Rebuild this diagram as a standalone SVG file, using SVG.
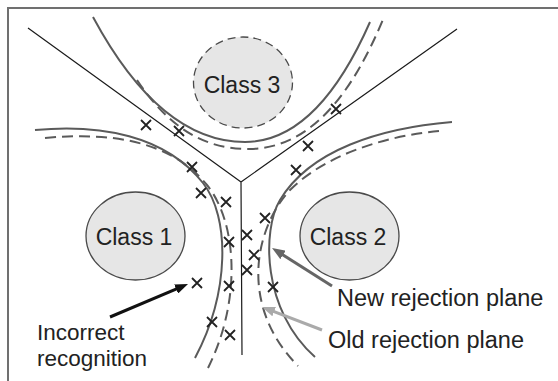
<svg xmlns="http://www.w3.org/2000/svg" width="558" height="381" viewBox="0 0 558 381">
  <style>
    .frame { stroke: #707070; stroke-width: 2; fill: none; }
    .axis { stroke: #1a1a1a; stroke-width: 1.2; fill: none; }
    .cls { fill: #e6e6e6; stroke: #4a4a4a; stroke-width: 1.3; }
    .cls-dash { stroke-dasharray: 8 5; }
    .new { stroke: #5a5a5a; stroke-width: 2; fill: none; }
    .old { stroke: #5a5a5a; stroke-width: 2; fill: none; stroke-dasharray: 11 6; }
    .mark { stroke: #222; stroke-width: 1.8; fill: none; }
    .lbl { font-family: "Liberation Sans", Arial, sans-serif; font-size: 23.5px; fill: #222; }
    .lbl-sm { font-size: 22.5px; }
    .cname { font-family: "Liberation Sans", Arial, sans-serif; font-size: 23px; fill: #222; text-anchor: middle; }
  </style>
  <defs>
    <path id="x" d="M-5,-5 L5,5 M-5,5 L5,-5"/>
    <marker id="ah-black" viewBox="0 0 13 10" refX="7" refY="5" markerWidth="13" markerHeight="10" markerUnits="userSpaceOnUse" orient="auto">
      <path d="M0,0 L13,5 L0,10 z" fill="#111"/>
    </marker>
    <marker id="ah-dark" viewBox="0 0 13 10" refX="7" refY="5" markerWidth="13" markerHeight="10" markerUnits="userSpaceOnUse" orient="auto">
      <path d="M0,0 L13,5 L0,10 z" fill="#666"/>
    </marker>
    <marker id="ah-light" viewBox="0 0 13 10" refX="7" refY="5" markerWidth="13" markerHeight="10" markerUnits="userSpaceOnUse" orient="auto">
      <path d="M0,0 L13,5 L0,10 z" fill="#aaa"/>
    </marker>
  </defs>

  <rect width="558" height="381" fill="#fff"/>
  <!-- open frame: top and left edges -->
  <path class="frame" d="M8,381 L8,8 L558,8"/>

  <!-- class regions -->
  <g id="class3">
    <ellipse class="cls cls-dash" cx="243" cy="82.5" rx="49.5" ry="45.5"/>
    <text class="cname" x="242" y="93">Class 3</text>
  </g>
  <g id="class1">
    <ellipse class="cls" cx="135.5" cy="236" rx="49.5" ry="44"/>
    <text class="cname" x="134" y="245">Class 1</text>
  </g>
  <g id="class2">
    <ellipse class="cls" cx="349.5" cy="236" rx="49.5" ry="44"/>
    <text class="cname" x="348" y="245">Class 2</text>
  </g>

  <!-- partition lines between the three classes -->
  <g id="partition">
    <path class="axis" d="M28,28 L241,182 L457,29 M241,182 L242,355"/>
  </g>

  <!-- rejection boundaries: solid = new, dashed = old -->
  <g id="boundaries">
    <path class="new" d="M93,17 C135,95 185,142 245,142 C300,142 340,90 370,22"/>
    <path class="old" d="M137,80 C165,122 200,150 250,149 C310,148 352,95 384,17"/>
    <path class="new" d="M35,130 C100,124 165,135 203,183 C230,217 230,292 195,358"/>
    <path class="old" d="M45,138 C110,132 170,140 207,185 C237,222 242,300 208,368"/>
    <path class="new" d="M452,122 C380,128 310,150 280,200 C262,230 262,310 315,357"/>
    <path class="old" d="M439,131 C385,136 325,155 290,190 C255,228 238,305 298,366"/>
  </g>

  <!-- samples -->
  <g id="samples" class="mark">
    <use href="#x" x="146" y="125"/>
    <use href="#x" x="179" y="131"/>
    <use href="#x" x="192" y="167"/>
    <use href="#x" x="201" y="193"/>
    <use href="#x" x="226" y="202"/>
    <use href="#x" x="229" y="242"/>
    <use href="#x" x="247" y="235"/>
    <use href="#x" x="254" y="255"/>
    <use href="#x" x="265" y="218"/>
    <use href="#x" x="296" y="170"/>
    <use href="#x" x="308" y="146"/>
    <use href="#x" x="336" y="109"/>
    <use href="#x" x="197" y="283"/>
    <use href="#x" x="229" y="286"/>
    <use href="#x" x="247" y="270"/>
    <use href="#x" x="273" y="287"/>
    <use href="#x" x="212" y="322"/>
    <use href="#x" x="230" y="335"/>
  </g>

  <!-- callout arrows -->
  <g id="connectors">
    <line x1="110" y1="317" x2="182.5" y2="286.3" stroke="#111" stroke-width="3" marker-end="url(#ah-black)"/>
    <line x1="332" y1="286" x2="277.1" y2="251.2" stroke="#666" stroke-width="3" marker-end="url(#ah-dark)"/>
    <line x1="322" y1="330" x2="267.6" y2="309.1" stroke="#aaa" stroke-width="3" marker-end="url(#ah-light)"/>
  </g>

  <g id="label-incorrect">
    <text class="lbl lbl-sm" x="37" y="340">Incorrect</text>
    <text class="lbl lbl-sm" x="37" y="366">recognition</text>
  </g>
  <g id="label-new">
    <text class="lbl" x="337" y="306">New rejection plane</text>
  </g>
  <g id="label-old">
    <text class="lbl" x="328" y="348">Old rejection plane</text>
  </g>
</svg>
